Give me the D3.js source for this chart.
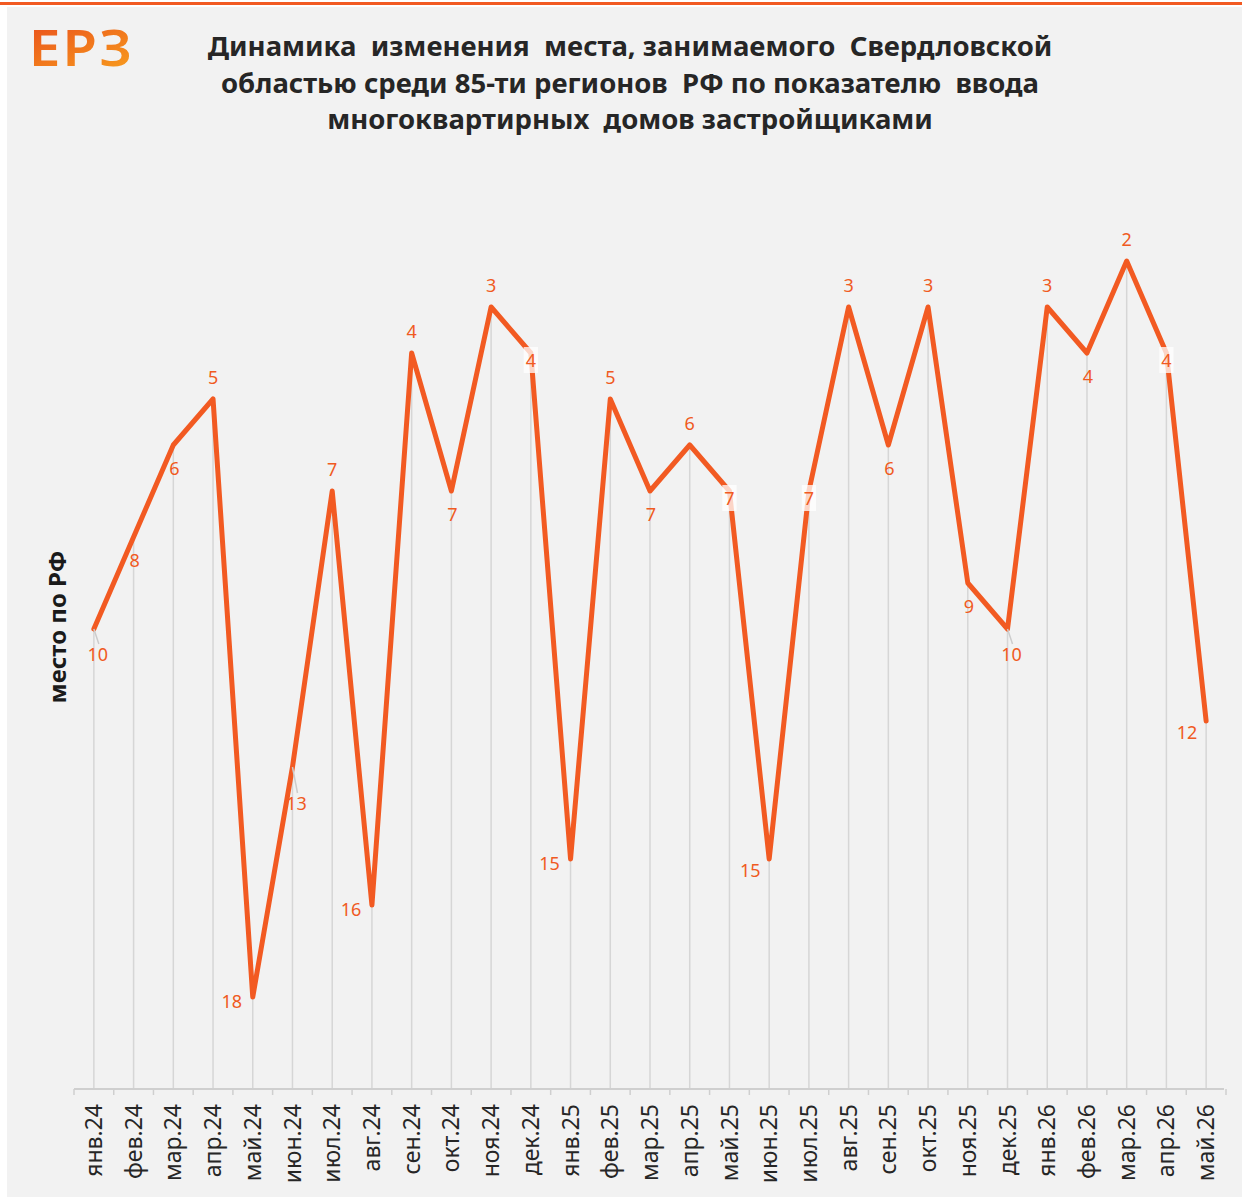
<!DOCTYPE html>
<html>
<head>
<meta charset="utf-8">
<script src="https://cdn.jsdelivr.net/npm/d3@7"></script>
<style>
  html, body { margin: 0; padding: 0; background: #ffffff; }
  svg { display: block; }
</style>
</head>
<body>
<script>
// Месяцы наблюдения
const months = [
  "янв.24","фев.24","мар.24","апр.24","май.24","июн.24","июл.24","авг.24","сен.24","окт.24","ноя.24","дек.24",
  "янв.25","фев.25","мар.25","апр.25","май.25","июн.25","июл.25","авг.25","сен.25","окт.25","ноя.25","дек.25",
  "янв.26","фев.26","мар.26","апр.26","май.26"
];
// Место Свердловской области среди регионов РФ
const ranks = [10, 8, 6, 5, 18, 13, 7, 16, 4, 7, 3, 4, 15, 5, 7, 6, 7, 15, 7, 3, 6, 3, 9, 10, 3, 4, 2, 4, 12];
// Диапазон шкалы мест
const rankDomain = [0, 20];

const titleLines = [
  "Динамика  изменения  места, занимаемого  Свердловской",
  "областью среди 85-ти регионов  РФ по показателю  ввода",
  "многоквартирных  домов застройщиками"
];
const yTitle = "место по РФ";

// Размещение подписей значений относительно точек
const labelPlacement = [
  "leader","below","below","above","left","leaderFar","above","left","above","below","above","boxed",
  "left","above","below","above","boxed","leftLow","boxed","above","below","above","below","leader",
  "above","below","above","boxed","leftLow"
];
const placementOffsets = {
  above:     {dx: 0,   dy: -15},
  below:     {dx: 1,   dy: 30},
  left:      {dx: -21, dy: 11},
  leftLow:   {dx: -19, dy: 18},
  boxed:     {dx: 0,   dy: 14},
  leader:    {dx: 4,   dy: 32},
  leaderFar: {dx: 4,   dy: 43}
};

const W = 1242, H = 1198;
const ORANGE = "#f25a22";
const LABEL = "#f05a22";

const svg = d3.select("body").append("svg")
  .attr("width", W).attr("height", H)
  .style("font-family", "'Noto Sans', 'Open Sans', sans-serif");

// Фон и верхняя полоса
svg.append("rect").attr("x", 0).attr("y", 0).attr("width", W).attr("height", H).attr("fill", "#ffffff");
svg.append("rect").attr("x", 7).attr("y", 7).attr("width", W - 7).attr("height", 1190).attr("fill", "#f2f2f2");
svg.append("rect").attr("x", 0).attr("y", 2).attr("width", W).attr("height", 3).attr("fill", ORANGE);

// Логотип
const defs = svg.append("defs");
const grad = defs.append("linearGradient").attr("id", "logoGrad")
  .attr("x1", "0%").attr("y1", "0%").attr("x2", "60%").attr("y2", "100%");
grad.append("stop").attr("offset", "0%").attr("stop-color", "#e8481c");
grad.append("stop").attr("offset", "100%").attr("stop-color", "#f7981d");
svg.append("text")
  .attr("transform", "translate(29,66) scale(1.12,1)")
  .attr("font-size", 50).attr("font-weight", 600)
  .attr("letter-spacing", 2)
  .attr("fill", "url(#logoGrad)")
  .text("ЕРЗ");

// Заголовок
const title = svg.append("text")
  .attr("text-anchor", "middle")
  .attr("font-size", 27.5).attr("font-weight", 700)
  .attr("fill", "#262626")
  .style("white-space", "pre");
titleLines.forEach((line, i) => {
  title.append("tspan").attr("x", 630).attr("y", 56 + i * 36.5).text(line);
});

// Шкалы
const xBand = d3.scaleBand().domain(months).range([74, 1226]).padding(0);
const xc = d => xBand(d) + xBand.bandwidth() / 2;
const y = d3.scaleLinear().domain(rankDomain).range([169, 1089]);
const axisY = y(rankDomain[1]);

// Вертикальные линии от точек к оси
svg.append("g").selectAll("line").data(months).join("line")
  .attr("x1", d => xc(d)).attr("x2", d => xc(d))
  .attr("y1", (d, i) => y(ranks[i])).attr("y2", axisY)
  .attr("stroke", "#d6d6d6").attr("stroke-width", 1.5);

// Ось X
const axisG = svg.append("g").attr("transform", `translate(0,${axisY})`)
  .call(d3.axisBottom(xBand).tickSize(0).tickPadding(0));
axisG.select(".domain").remove();
axisG.append("line").attr("x1", 74).attr("x2", 1224).attr("y1", 0).attr("y2", 0)
  .attr("stroke", "#cfcfcf").attr("stroke-width", 2);
const boundaries = months.map(d => xBand(d)).concat([xBand(months[months.length - 1]) + xBand.bandwidth()]);
axisG.selectAll("line.bt").data(boundaries).join("line").attr("class", "bt")
  .attr("x1", d => d).attr("x2", d => d).attr("y1", 0).attr("y2", 6)
  .attr("stroke", "#cfcfcf").attr("stroke-width", 1.5);
axisG.selectAll(".tick text")
  .attr("transform", "rotate(-90)")
  .attr("x", -15).attr("y", 0).attr("dy", "0.35em")
  .attr("text-anchor", "end")
  .attr("font-size", 23)
  .attr("font-family", "'Noto Sans', 'Open Sans', sans-serif")
  .attr("fill", "#262626");

// Название оси Y
svg.append("text")
  .attr("transform", "translate(66,627) rotate(-90)")
  .attr("text-anchor", "middle")
  .attr("font-size", 24).attr("font-weight", 700)
  .attr("fill", "#1a1a1a")
  .text(yTitle);

// Линия динамики
const line = d3.line().x((d, i) => xc(months[i])).y(d => y(d));
svg.append("path").datum(ranks)
  .attr("d", line)
  .attr("fill", "none")
  .attr("stroke", ORANGE).attr("stroke-width", 5)
  .attr("stroke-linejoin", "round").attr("stroke-linecap", "round");

// Подписи значений
const labels = svg.append("g");
ranks.forEach((v, i) => {
  const px = xc(months[i]), py = y(v);
  const p = labelPlacement[i];
  const o = placementOffsets[p];
  const lx = px + o.dx, ly = py + o.dy;
  if (p === "leader" || p === "leaderFar") {
    labels.append("line")
      .attr("x1", px).attr("y1", py)
      .attr("x2", px + 5).attr("y2", ly - 17)
      .attr("stroke", "#cccccc").attr("stroke-width", 1.5);
  }
  const t = labels.append("text")
    .attr("x", lx).attr("y", ly)
    .attr("text-anchor", "middle")
    .attr("font-size", 18)
    .attr("fill", LABEL)
    .text(v);
  if (p === "boxed") {
    const bb = t.node().getBBox();
    labels.insert("rect", () => t.node())
      .attr("x", bb.x - 2).attr("y", bb.y - 1)
      .attr("width", bb.width + 4).attr("height", bb.height + 2)
      .attr("fill", "#ffffff").attr("fill-opacity", 0.75);
  }
});
</script>
</body>
</html>
